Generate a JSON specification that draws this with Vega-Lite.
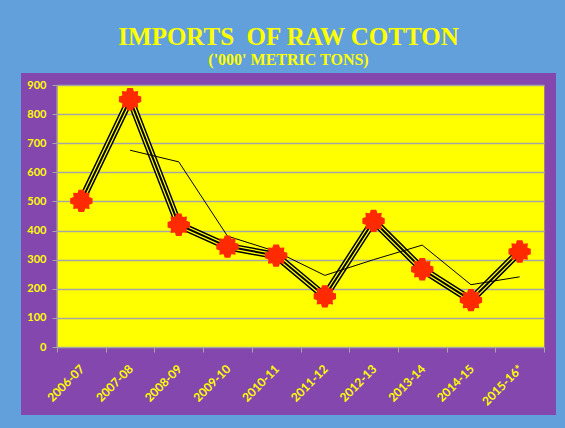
{
  "$schema": "https://vega.github.io/schema/vega-lite/v6.json",
  "width": 535,
  "height": 342,
  "autosize": {"type": "none"},
  "padding": {"left": 21, "top": 73, "right": 9, "bottom": 13},
  "background": "#62A0DC",
  "title": {
    "text": "IMPORTS\u00a0 OF RAW COTTON",
    "subtitle": "('000' METRIC TONS)",
    "font": "Liberation Serif",
    "fontSize": 25,
    "fontWeight": "bold",
    "color": "#FFFF00",
    "subtitleFont": "Liberation Serif",
    "subtitleFontSize": 16,
    "subtitleFontWeight": "bold",
    "subtitleColor": "#FFFF00",
    "anchor": "middle",
    "frame": "group",
    "offset": 5,
    "subtitlePadding": 2
  },
  "config": {"view": {"fill": "#8447AD", "stroke": null}},
  "data": {
    "values": [
      {"year": "2006-07", "value": 502, "avg": null},
      {"year": "2007-08", "value": 851, "avg": 676},
      {"year": "2008-09", "value": 420, "avg": 636},
      {"year": "2009-10", "value": 345, "avg": 381},
      {"year": "2010-11", "value": 314, "avg": 328},
      {"year": "2011-12", "value": 174, "avg": 246},
      {"year": "2012-13", "value": 433, "avg": 300},
      {"year": "2013-14", "value": 267, "avg": 350},
      {"year": "2014-15", "value": 161, "avg": 214},
      {"year": "2015-16*", "value": 328, "avg": 241}
    ]
  },
  "encoding": {
    "y": {
      "field": "value",
      "type": "quantitative",
      "scale": {"domain": [0, 900], "range": [274, 12], "nice": false, "zero": false},
      "axis": {
        "title": null,
        "values": [0, 100, 200, 300, 400, 500, 600, 700, 800, 900],
        "tickCount": 20,
        "labelOverlap": false,
        "labelFont": "Lato",
        "labelFontWeight": "bold",
        "labelFontSize": 11,
        "labelColor": "#FFFF00",
        "labelPadding": 6,
        "tickSize": 5,
        "tickColor": "#A6A6A6",
        "domainColor": "#A6A6A6",
        "grid": true,
        "gridColor": "#A6A6A6",
        "gridWidth": 1.5,
        "offset": -36
      }
    }
  },
  "layer": [
    {
      "mark": {"type": "line", "color": "#000000", "strokeWidth": 7.5, "strokeJoin": "miter"},
      "encoding": {
        "x": {
          "field": "year",
          "type": "nominal",
          "sort": null,
          "scale": {"type": "band", "range": [36, 523], "paddingInner": 0, "paddingOuter": 0},
          "axis": {
            "orient": "top",
            "title": null,
            "labels": false,
            "ticks": false,
            "domain": false,
            "grid": true,
            "bandPosition": 0.5,
            "gridColor": "#FFFF00",
            "gridOpacity": 1,
            "gridWidth": 49.6
          }
        }
      }
    },
    {
      "encoding": {
        "x": {
          "field": "year",
          "type": "nominal",
          "sort": null,
          "axis": {
            "orient": "bottom",
            "title": null,
            "labelAngle": -45,
            "labelFont": "Lato",
            "labelFontWeight": "bold",
            "labelFontSize": 12,
            "labelColor": "#FFFF00",
            "labelPadding": 11,
            "labelOffset": -3,
            "labelOverlap": false,
            "tickBand": "extent",
            "tickSize": 5,
            "tickColor": "#A6A6A6",
            "domainColor": "#A6A6A6",
            "grid": false,
            "offset": -68
          }
        }
      },
      "layer": [
        {
          "mark": {"type": "line", "color": "#FFFF00", "strokeWidth": 4.5, "strokeJoin": "miter"}
        },
        {
          "mark": {"type": "line", "color": "#000000", "strokeWidth": 2, "strokeJoin": "miter"}
        },
        {
          "mark": {"type": "line", "color": "#000000", "strokeWidth": 1},
          "encoding": {
            "y": {
              "field": "avg",
              "type": "quantitative",
              "axis": {
                "title": null,
                "values": [0, 100, 200, 300, 400, 500, 600, 700, 800, 900],
                "tickCount": 20,
                "labelOverlap": false,
                "labelFont": "Lato",
                "labelFontWeight": "bold",
                "labelFontSize": 11,
                "labelColor": "#FFFF00",
                "labelPadding": 6,
                "tickSize": 5,
                "tickColor": "#A6A6A6",
                "domainColor": "#A6A6A6",
                "grid": true,
                "gridColor": "#A6A6A6",
                "gridWidth": 1.5,
                "offset": -36
              }
            }
          }
        },
        {
          "mark": {
            "type": "point",
            "shape": "M0.98,-0.24L0.98,0.24L0.68,0.34L0.72,0.72L0.34,0.68L0.24,0.98L-0.24,0.98L-0.34,0.68L-0.72,0.72L-0.68,0.34L-0.98,0.24L-0.98,-0.24L-0.68,-0.34L-0.72,-0.72L-0.34,-0.68L-0.24,-0.98L0.24,-0.98L0.34,-0.68L0.72,-0.72L0.68,-0.34Z",
            "filled": true,
            "fill": "#FF2A00",
            "opacity": 1,
            "strokeWidth": 0,
            "size": 520
          }
        }
      ]
    }
  ],
  "resolve": {"axis": {"x": "independent"}}
}
